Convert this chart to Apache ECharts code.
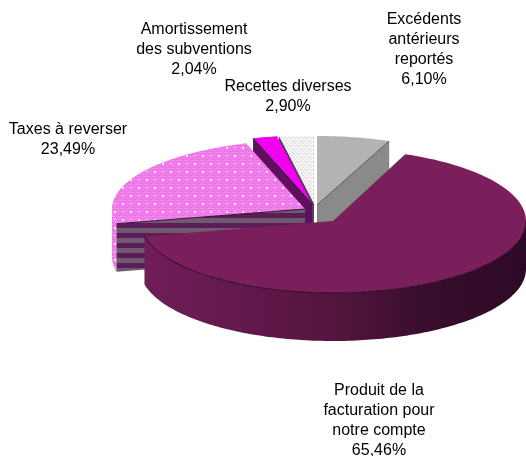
<!DOCTYPE html>
<html><head><meta charset="utf-8">
<style>html,body{margin:0;padding:0;background:#fff}#c{width:526px;height:456px}</style>
<script src="https://cdn.jsdelivr.net/npm/echarts@6/dist/echarts.min.js"></script>
</head><body><div id="c"></div>
<script>
// Data, clockwise from the top of the pie
const categories = ['Excédents\nantérieurs\nreportés', 'Produit de la\nfacturation pour\nnotre compte', 'Taxes à reverser', 'Amortissement\ndes subventions', 'Recettes diverses'];
const values = [6.10, 65.46, 23.49, 2.04, 2.90];
const valueLabels = ['6,10%', '65,46%', '23,49%', '2,04%', '2,90%'];

// Layout
const RX = 193, DEPTH = 48;
const sliceCx = [317, 333, 305, 312, 314];
const sliceCy = [205, 221, 209, 204, 205];
const sliceRy = [69, 72, 69, 69, 69];
const labelX = [424, 379, 68, 194, 288];
const labelY = [10, 381, 120, 20, 77];
const zOrder = [1, 5, 4, 3, 2];

// Textures
function tile(w, h, draw) {
  const c = document.createElement('canvas'); c.width = w; c.height = h;
  draw(c.getContext('2d')); return { image: c, repeat: 'repeat' };
}
const pinkDots = tile(16, 16, g => {
  g.fillStyle = '#ef72e8'; g.fillRect(0, 0, 16, 16);
  g.fillStyle = '#f79cf2';
  for (let y = 0; y < 16; y += 2) for (let x = (y % 4 ? 1 : 0); x < 16; x += 2) g.fillRect(x, y, 1, 1);
  g.fillStyle = '#fdeafc'; g.fillRect(2, 3, 2, 2); g.fillRect(10, 11, 2, 2);
  g.fillStyle = '#f9c0f5'; g.fillRect(10, 3, 2, 1); g.fillRect(2, 11, 2, 1);
});
const speckle = tile(4, 4, g => {
  g.fillStyle = '#f6f1f6'; g.fillRect(0, 0, 4, 4);
  g.fillStyle = '#c6aecb'; g.fillRect(1, 1, 1, 1);
  g.fillStyle = '#dfd0e2'; g.fillRect(3, 3, 1, 1);
});
const stripes = tile(4, 10, g => {
  g.fillStyle = '#5c1c58'; g.fillRect(0, 0, 4, 10);
  g.fillStyle = '#6f5a72'; g.fillRect(0, 0, 4, 3); g.fillRect(0, 8, 4, 2);
});
const mainWall = {
  type: 'linear', x: 0, y: 0, x2: 1, y2: 0,
  colorStops: [
    { offset: 0, color: '#701d59' }, { offset: 0.5, color: '#54153f' },
    { offset: 0.72, color: '#3a0e2e' }, { offset: 1, color: '#2c0a25' }
  ]
};
const topFill = ['#b3b3b3', '#7a1f5c', pinkDots, '#f000f0', speckle];
const cutFill = ['#8a8a8a', '#5a1545', stripes, '#5f0f5f', '#4a4a4a'];
const wallFill = ['#8a8a8a', mainWall, pinkDots, '#7b0f80', '#bbbbbb'];
const edgeColor = ['#555555', '#2a0a22', '#3a1036', '#3a0a3a', '#333333'];
const arcOutline = [false, true, false, false, false];

const total = values.reduce((a, b) => a + b, 0);
const starts = [];
values.reduce((acc, v, i) => { starts[i] = acc; return acc + v; }, 0);
const ang = v => v / total * 2 * Math.PI;

function renderSlice(params, api) {
  const i = params.dataIndex, val = api.value(0);
  const a0 = ang(starts[i]), a1 = a0 + ang(val);
  const cx = sliceCx[i], cy = sliceCy[i], ry = sliceRy[i];
  const P = a => [cx + RX * Math.sin(a), cy - ry * Math.cos(a)];
  const down = p => [p[0], p[1] + DEPTH];
  const arc = (s, e) => { const n = Math.max(2, Math.ceil((e - s) * 50)), o = []; for (let k = 0; k <= n; k++) o.push(P(s + (e - s) * k / n)); return o; };
  const base = zOrder[i] * 10, kids = [];
  const apex = [cx, cy];
  const silent = true;
  // Outer wall, front half only
  const fs = Math.max(a0, Math.PI / 2), fe = Math.min(a1, 1.5 * Math.PI);
  if (fe > fs) {
    const top = arc(fs, fe);
    kids.push({ type: 'polygon', z2: base + 1, silent, shape: { points: top.concat(top.map(down).reverse()) }, style: { fill: wallFill[i] } });
  }
  // Cut faces that look towards the viewer
  [[a0, Math.sin(a0) < 0], [a1, Math.sin(a1) > 0]].forEach(([a, vis]) => {
    if (!vis) return;
    const p = P(a);
    kids.push({ type: 'polygon', z2: base + 2, silent, shape: { points: [apex, p, down(p), down(apex)] }, style: { fill: cutFill[i] } });
    kids.push({ type: 'polyline', z2: base + 4, silent, shape: { points: [apex, p] }, style: { fill: 'none', stroke: edgeColor[i], lineWidth: 1 } });
  });
  // Top surface
  kids.push({ type: 'polygon', z2: base + 3, silent, shape: { points: [apex].concat(arc(a0, a1)) }, style: { fill: topFill[i] } });
  if (fe > fs && arcOutline[i]) kids.push({ type: 'polyline', z2: base + 4, silent, shape: { points: arc(fs, fe) }, style: { fill: 'none', stroke: edgeColor[i], lineWidth: 1 } });
  // Label
  kids.push({
    type: 'text', z2: 200, silent, x: labelX[i], y: labelY[i],
    style: {
      text: categories[i] + '\n' + valueLabels[i], x: 0, y: 0, align: 'center', verticalAlign: 'top',
      font: '16px "Liberation Sans"', lineHeight: 20, fill: '#000'
    }
  });
  return { type: 'group', children: kids };
}

const chart = echarts.init(document.getElementById('c'), null, { renderer: 'canvas' });
chart.setOption({
  animation: false, backgroundColor: '#fff',
  series: [{
    type: 'custom', coordinateSystem: 'none', silent: true, clip: false,
    renderItem: renderSlice,
    data: values.map(v => [v])
  }]
});
</script></body></html>
